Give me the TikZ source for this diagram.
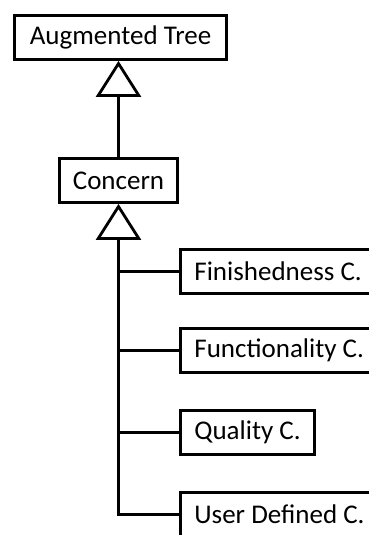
\documentclass[tikz,border=0pt]{standalone}
\usepackage{fontspec}
\setmainfont{Carlito}
\usetikzlibrary{arrows.meta}
\begin{document}
\begin{tikzpicture}[x=1pt,y=-1pt,
  box/.style={draw,line width=2.8pt,fill=white,minimum height=44pt,
    inner sep=0pt,font=\fontsize{27}{32}\selectfont},
  subbox/.style={box,anchor=west,inner xsep=14pt},
  gen/.style={line width=2.8pt,line join=miter,
    -{Triangle[open,length=36pt,width=45pt,line width=2.8pt]}},
  branch/.style={line width=2.8pt}]
  \clip (0,0) rectangle (369,535);
  \fill[white] (0,0) rectangle (369,535);

  % parent classes
  \node[box,minimum width=212pt] (aug) at (120.5,37.5) {Augmented Tree};
  \node[box,minimum width=118pt] (concern) at (118.5,180.5) {Concern};

  % concrete concerns
  \node[subbox] (fin)  at (179,271.5) {Finishedness C.};
  \node[subbox] (func) at (179,350.5) {Functionality C.};
  \node[subbox] (qual) at (179,432.5) {Quality C.};
  \node[subbox] (user) at (179,514.5) {User Defined C.};

  % generalisation links
  \draw[gen] (concern.north) -- (concern.north |- aug.south);
  \draw[gen] (user.west) -- (user.west -| concern.south) -- (concern.south);
  \draw[branch] (fin.west)  -- (fin.west -| concern.south);
  \draw[branch] (func.west) -- (func.west -| concern.south);
  \draw[branch] (qual.west) -- (qual.west -| concern.south);
\end{tikzpicture}
\end{document}
